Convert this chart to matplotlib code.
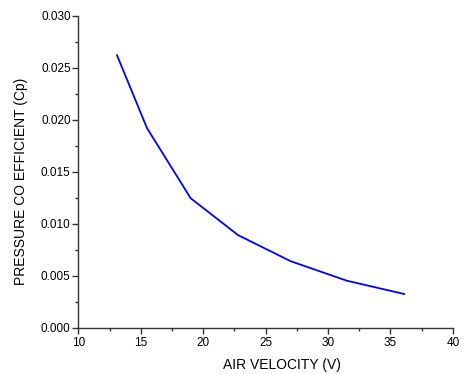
import matplotlib
matplotlib.use("Agg")
import matplotlib.pyplot as plt
from matplotlib.ticker import MultipleLocator, FormatStrFormatter

air_velocity = [13.1, 15.5, 19.0, 22.8, 27.0, 31.5, 36.1]
pressure_cp = [0.0262, 0.0192, 0.01245, 0.0089, 0.0064, 0.00452, 0.00324]

plt.rcParams['font.family'] = ['Liberation Sans', 'DejaVu Sans']

fig = plt.figure(figsize=(4.7, 3.74), dpi=100)
ax = fig.add_axes([0.1666, 0.1238, 0.797, 0.834])
ax.plot(air_velocity, pressure_cp, color='#0000ff', lw=1.3)

ax.set_xlim(10, 40)
ax.set_ylim(0, 0.030)
ax.xaxis.set_major_locator(MultipleLocator(5))
ax.xaxis.set_minor_locator(MultipleLocator(2.5))
ax.yaxis.set_major_locator(MultipleLocator(0.005))
ax.yaxis.set_minor_locator(MultipleLocator(0.0025))
ax.yaxis.set_major_formatter(FormatStrFormatter('%.3f'))

for s in ['top', 'right']:
    ax.spines[s].set_visible(False)
for s in ['left', 'bottom']:
    ax.spines[s].set_linewidth(1.0)
    ax.spines[s].set_color('#333333')

ax.tick_params(which='major', direction='out', length=4, width=1, colors='#333333', labelsize=8.5, labelcolor='black', pad=1.5)
ax.tick_params(axis='x', which='major', pad=3)
ax.tick_params(which='minor', direction='out', length=2.5, width=1, colors='#333333')

ax.set_xlabel('AIR VELOCITY (V)', fontsize=10)
ax.set_ylabel('PRESSURE CO EFFICIENT (Cp)', fontsize=10)
ax.xaxis.set_label_coords(0.5436, -0.097)
ax.yaxis.set_label_coords(-0.133, 0.4686)

fig.savefig('out.png', dpi=100)
